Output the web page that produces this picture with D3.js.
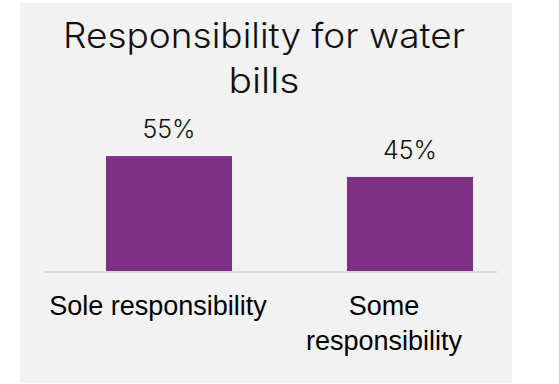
<!DOCTYPE html>
<html>
<head>
<meta charset="utf-8">
<script src="https://cdn.jsdelivr.net/npm/d3@7"></script>
<style>
  html, body { margin: 0; padding: 0; background: #ffffff; }
  svg { display: block; }
</style>
</head>
<body>
<svg id="chart" width="559" height="384"></svg>
<script>
// Chart data
const categories = ["Sole responsibility", "Some responsibility"];
const categoryLines = [["Sole responsibility"], ["Some", "responsibility"]];
const values = [55, 45];
const valueLabels = ["55%", "45%"];
const titleLines = ["Responsibility for water", "bills"];
const titleWidths = [402, 71];

const svg = d3.select("#chart");

// Panel background
svg.append("rect")
  .attr("x", 20).attr("y", 3)
  .attr("width", 492).attr("height", 380)
  .attr("fill", "#f2f2f2");

// Title
const titleFont = "Inter, 'Open Sans', sans-serif";
const title = svg.append("text")
  .attr("text-anchor", "middle")
  .attr("font-family", titleFont)
  .attr("font-weight", 300)
  .attr("font-size", 35)
  .attr("fill", "#111111");
title.selectAll("tspan")
  .data(titleLines)
  .join("tspan")
  .attr("x", 264)
  .attr("y", (d, i) => 48 + i * 45)
  .attr("textLength", (d, i) => titleWidths[i])
  .attr("lengthAdjust", "spacingAndGlyphs")
  .text(d => d);

// Scales
const baseline = 271;
const y = d3.scaleLinear().domain([0, 60]).range([baseline, baseline - 125.4]);
const xBars = d3.scaleBand().domain(categories).range([48.5, 530.5]).paddingInner(0.477).paddingOuter(0.2385);
const xAxis = d3.scaleBand().domain(categories).range([45, 497]);

// Bars
svg.selectAll("rect.bar")
  .data(values)
  .join("rect")
  .attr("class", "bar")
  .attr("x", (d, i) => xBars(categories[i]))
  .attr("y", d => y(d))
  .attr("width", xBars.bandwidth())
  .attr("height", d => baseline - y(d))
  .attr("fill", "#7e2f86");

// Value labels
svg.selectAll("text.val")
  .data(values)
  .join("text")
  .attr("class", "val")
  .attr("text-anchor", "middle")
  .attr("font-family", titleFont)
  .attr("font-weight", 300)
  .attr("font-size", 25)
  .attr("fill", "#111111")
  .attr("x", (d, i) => xBars(categories[i]) + xBars.bandwidth() / 2)
  .attr("y", d => y(d) - 18)
  .text((d, i) => valueLabels[i]);

// Category axis
const axisG = svg.append("g").attr("transform", `translate(0,${baseline + 1})`)
  .call(d3.axisBottom(xAxis).tickSize(0).tickFormat(""));
axisG.select(".domain")
  .attr("stroke", "#d9d9d9")
  .attr("stroke-width", 2)
  .attr("d", `M${xAxis.range()[0]},0H${xAxis.range()[1]}`);

// Category labels
const catText = axisG.selectAll(".tick").append("text")
  .attr("text-anchor", "middle")
  .attr("font-family", "'Liberation Sans', Arial, sans-serif")
  .attr("font-size", 27)
  .attr("fill", "#000000");
catText.each(function(d, i) {
  d3.select(this).selectAll("tspan")
    .data(categoryLines[i])
    .join("tspan")
    .attr("x", 0)
    .attr("y", (t, j) => 43 + j * 35)
    .text(t => t);
});
</script>
</body>
</html>
